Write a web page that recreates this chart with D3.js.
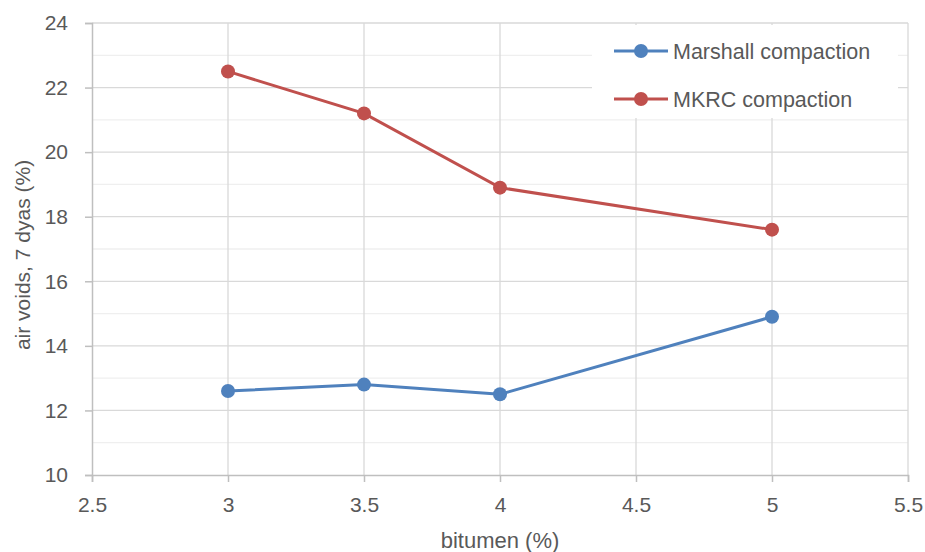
<!DOCTYPE html>
<html>
<head>
<meta charset="utf-8">
<script src="https://cdn.jsdelivr.net/npm/d3@7"></script>
<style>
  body { margin: 0; background: #fff; }
  text { font-family: "Liberation Sans", "DejaVu Sans", sans-serif; fill: #595959; }
</style>
</head>
<body>
<div id="chart"></div>
<script>
/* DATA */
const bitumen = [3, 3.5, 4, 5];
const marshall = [12.6, 12.8, 12.5, 14.9];
const mkrc = [22.5, 21.2, 18.9, 17.6];
const seriesNames = ["Marshall compaction", "MKRC compaction"];
const seriesColors = ["#4f81bd", "#c0504d"];
const xTicks = [2.5, 3, 3.5, 4, 4.5, 5, 5.5];
const yTicks = [10, 12, 14, 16, 18, 20, 22, 24];
const yMinor = [11, 13, 15, 17, 19, 21, 23];

/* CONSTANTS */
const width = 925, height = 552,
      margin = {top: 23, bottom: 77, left: 92, right: 17};

const svg = d3.select("#chart").append("svg")
    .attr("width", width)
    .attr("height", height);

const x = d3.scaleLinear().domain([2.5, 5.5]).range([margin.left, width - margin.right]);
const y = d3.scaleLinear().domain([10, 24]).range([height - margin.bottom, margin.top]);

/* GRIDLINES */
svg.append("g").selectAll("line")
  .data(yMinor)
  .join("line")
    .attr("x1", x(2.5)).attr("x2", x(5.5))
    .attr("y1", d => y(d)).attr("y2", d => y(d))
    .attr("stroke", "#efefef").attr("stroke-width", 1.3);

svg.append("g").selectAll("line")
  .data(yTicks.slice(1))
  .join("line")
    .attr("x1", x(2.5)).attr("x2", x(5.5))
    .attr("y1", d => y(d)).attr("y2", d => y(d))
    .attr("stroke", "#d9d9d9").attr("stroke-width", 1.3);

svg.append("g").selectAll("line")
  .data(xTicks.slice(1))
  .join("line")
    .attr("x1", d => x(d)).attr("x2", d => x(d))
    .attr("y1", y(10)).attr("y2", y(24))
    .attr("stroke", "#d9d9d9").attr("stroke-width", 1.3);

/* AXES */
const yAxis = svg.append("g")
    .attr("transform", `translate(${margin.left},0)`)
    .call(d3.axisLeft(y).tickValues(yTicks).tickSize(7).tickPadding(17).tickFormat(d3.format("d")));
const xAxis = svg.append("g")
    .attr("transform", `translate(0,${height - margin.bottom})`)
    .call(d3.axisBottom(x).tickValues(xTicks).tickSize(7).tickPadding(15).tickFormat(d => d));

[xAxis, yAxis].forEach(a => {
  a.attr("font-size", 21).attr("font-family", "Liberation Sans");
  a.select(".domain").attr("stroke", "#bfbfbf").attr("stroke-width", 1.5);
  a.selectAll(".tick line").attr("stroke", "#bfbfbf").attr("stroke-width", 1.5);
  a.selectAll(".tick text").attr("font-size", 21).attr("fill", "#595959");
});

/* LEGEND BACKGROUND */
svg.append("rect")
    .attr("x", 592).attr("y", 25)
    .attr("width", 306).attr("height", 93)
    .attr("fill", "#fff");

/* SERIES */
const series = [marshall, mkrc].map((vals, i) => ({
  name: seriesNames[i], color: seriesColors[i],
  points: bitumen.map((b, j) => ({x: b, y: vals[j]}))
}));

const line = d3.line().x(d => x(d.x)).y(d => y(d.y));

series.forEach(s => {
  svg.append("path")
    .datum(s.points)
    .attr("fill", "none")
    .attr("stroke", s.color)
    .attr("stroke-width", 3)
    .attr("d", line);
  svg.append("g").selectAll("circle")
    .data(s.points)
    .join("circle")
      .attr("cx", d => x(d.x))
      .attr("cy", d => y(d.y))
      .attr("r", 7)
      .attr("fill", s.color);
});

/* LEGEND */
const legend = svg.append("g").attr("transform", "translate(614,51)");
series.forEach((s, i) => {
  const g = legend.append("g").attr("transform", `translate(0,${i * 48})`);
  g.append("line").attr("x1", 0).attr("x2", 54).attr("stroke", s.color).attr("stroke-width", 3);
  g.append("circle").attr("cx", 27).attr("r", 7).attr("fill", s.color);
  g.append("text").attr("x", 59).attr("dy", "0.35em")
    .style("font-size", "21.5px").text(s.name);
});

/* AXIS TITLES */
svg.append("text")
    .attr("x", (margin.left + width - margin.right) / 2)
    .attr("y", 548)
    .attr("text-anchor", "middle")
    .style("font-size", "22px")
    .text("bitumen (%)");

svg.append("text")
    .attr("transform", `translate(30,${(margin.top + height - margin.bottom) / 2 + 6}) rotate(-90)`)
    .attr("text-anchor", "middle")
    .style("font-size", "21px")
    .text("air voids, 7 dyas (%)");
</script>
</body>
</html>
